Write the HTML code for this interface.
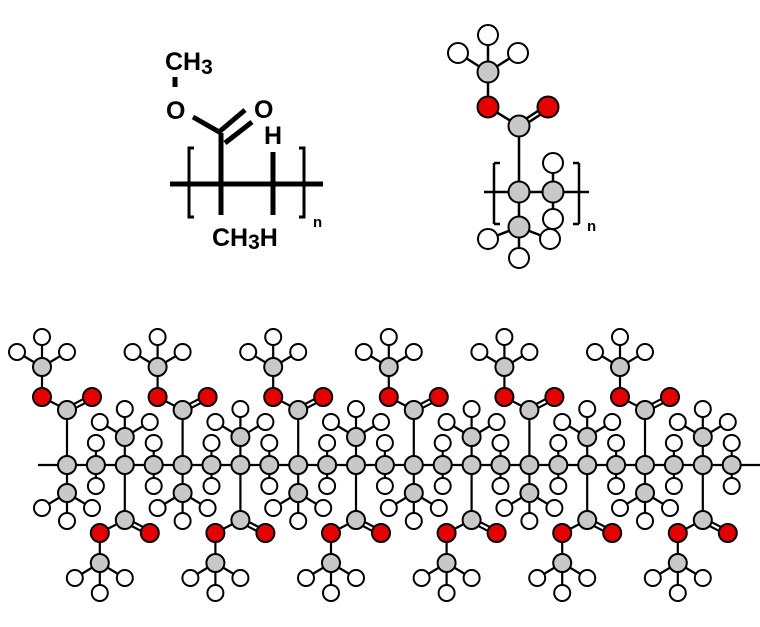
<!DOCTYPE html>
<html><head><meta charset="utf-8"><style>
html,body{margin:0;padding:0;background:#fff;width:760px;height:627px;overflow:hidden}
svg{display:block}
.t{font-family:"Liberation Sans","DejaVu Sans",sans-serif;font-weight:bold;fill:#000}
</style></head><body>
<svg id="s" width="760" height="627" viewBox="0 0 760 627" xmlns="http://www.w3.org/2000/svg">
<g stroke="#000" stroke-width="5" fill="none" stroke-linecap="butt">
<line x1="170" y1="184" x2="323" y2="184"/>
<line x1="221" y1="133" x2="221" y2="215"/>
<line x1="273" y1="152" x2="273" y2="215"/>
<line x1="193" y1="117" x2="221" y2="133"/>
<line x1="219" y1="132" x2="245" y2="110"/>
<line x1="225" y1="143" x2="252" y2="122"/>
<line x1="175" y1="77" x2="175" y2="87"/>
<polyline points="194,148 189,148 189,217 194,217" stroke-width="3"/>
<polyline points="299,148 304,148 304,217 299,217" stroke-width="3"/>
</g>
<text class="t" x="165" y="70" font-size="25">CH<tspan font-size="21" dy="4">3</tspan></text>
<text class="t" x="166" y="119" font-size="25">O</text>
<text class="t" x="254" y="118" font-size="25">O</text>
<text class="t" x="264" y="144" font-size="25">H</text>
<text class="t" x="212" y="246" font-size="25">CH<tspan font-size="21" dy="3">3</tspan><tspan dy="-3">H</tspan></text>
<text class="t" x="313" y="227" font-size="15">n</text>
<g id="tr"></g>
<g id="ch"></g>
</svg>
<script>
var NS="http://www.w3.org/2000/svg";
function el(p,n,a){var e=document.createElementNS(NS,n);for(var k in a)e.setAttribute(k,a[k]);p.appendChild(e);return e;}
var C="#c8c8c8",R="#e60000",W="#fff";
function build(g,bonds,atoms,r,sw){
 bonds.forEach(function(b){
  if(b[4]){var dx=b[2]-b[0],dy=b[3]-b[1],L=Math.hypot(dx,dy),nx=-dy/L*2.2,ny=dx/L*2.2;
   el(g,"line",{x1:b[0]+nx,y1:b[1]+ny,x2:b[2]+nx,y2:b[3]+ny,stroke:"#000","stroke-width":sw});
   el(g,"line",{x1:b[0]-nx,y1:b[1]-ny,x2:b[2]-nx,y2:b[3]-ny,stroke:"#000","stroke-width":sw});
  } else el(g,"line",{x1:b[0],y1:b[1],x2:b[2],y2:b[3],stroke:"#000","stroke-width":sw});
 });
 atoms.forEach(function(a){el(g,"circle",{cx:a[0],cy:a[1],r:a[3]||r,fill:a[2],stroke:"#000","stroke-width":2});});
}
(function(){
 var g=document.getElementById("ch"),B=[],A=[],y=465;
 B.push([38,y,760,y]);
 for(var k=0;k<12;k++){
  var x=67+57.8*k,h=x+28.9,up=(k%2==0);
  A.push([x,y,C]);A.push([h,y,C]);
  B.push([h,y,h,443]);B.push([h,y,h,486]);A.push([h,443,W,8]);A.push([h,486,W,8]);
  var s=up?-1:1;
  var cy=y+s*55, oy=y+s*68, my=y+s*98;
  B.push([x,y,x,cy]);B.push([x,cy,x-25,oy]);B.push([x,cy,x+25,oy,1]);B.push([x-25,oy,x-25,my]);
  var hy1=my+s*30, hy2=my+s*15;
  B.push([x-25,my,x-25,hy1]);B.push([x-25,my,x-50,hy2]);B.push([x-25,my,x,hy2]);
  A.push([x,cy,C]);A.push([x-25,oy,R]);A.push([x+25,oy,R]);A.push([x-25,my,C]);
  A.push([x-25,hy1,W,8]);A.push([x-50,hy2,W,8]);A.push([x,hy2,W,8]);
  var t=-s, m=y+t*28;
  B.push([x,y,x,m]);B.push([x,m,x,m+t*28]);B.push([x,m,x-25,m+t*15]);B.push([x,m,x+25,m+t*15]);
  A.push([x,m,C]);A.push([x,m+t*28,W,8]);A.push([x-25,m+t*15,W,8]);A.push([x+25,m+t*15,W,8]);
 }
 build(g,B,A,9,2.2);
})();
(function(){
 var g=document.getElementById("tr"),B=[],A=[],y=192,x=519,h=553;
 B.push([484,y,589,y]);
 B.push([h,y,h,163]);B.push([h,y,h,219]);
 B.push([x,y,x,126]);B.push([x,126,488,107]);B.push([x,126,548,107,1]);B.push([488,107,488,72]);
 B.push([488,72,488,35]);B.push([488,72,458,53]);B.push([488,72,518,53]);
 B.push([x,y,x,227]);B.push([x,227,488,239]);B.push([x,227,550,239]);B.push([x,227,x,258]);
 B.push([494,163,494,224]);B.push([579,163,579,224]);
 B.push([494,163,500,163]);B.push([494,224,500,224]);B.push([579,163,573,163]);B.push([579,224,573,224]);
 A.push([x,y,C]);A.push([h,y,C]);A.push([h,163,W,10]);A.push([h,219,W,10]);
 A.push([x,126,C]);A.push([488,107,R]);A.push([548,107,R]);A.push([488,72,C]);
 A.push([488,35,W,10]);A.push([458,53,W,10]);A.push([518,53,W,10]);
 A.push([x,227,C]);A.push([488,239,W,10]);A.push([550,239,W,10]);A.push([x,258,W,10]);
 build(g,B,A,10.5,2.5);
 var t=el(g,"text",{x:587,y:231,"font-size":15,"class":"t"});t.textContent="n";
})();
</script>
</body></html>
